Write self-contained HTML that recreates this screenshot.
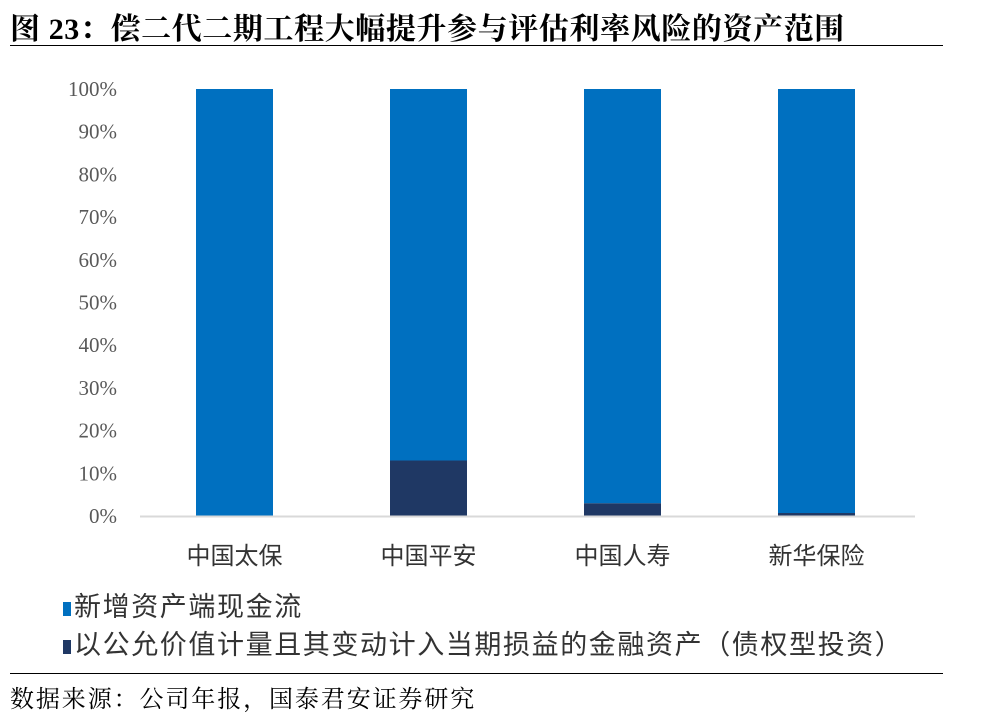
<!DOCTYPE html>
<html><head><meta charset="utf-8"><style>
body{margin:0;background:#fff;width:1000px;height:714px;overflow:hidden;position:relative;font-family:"Liberation Sans","Noto Sans CJK SC",sans-serif}
.abs{position:absolute;white-space:nowrap}
</style></head><body>
<div class="abs" style="left:10px;top:4px;font-family:'Liberation Serif','Noto Serif CJK SC',serif;font-size:30px;letter-spacing:0.6px;font-weight:bold;color:#000">图 23：偿二代二期工程大幅提升参与评估利率风险的资产范围</div>
<div class="abs" style="left:10px;top:45px;width:933px;height:1px;background:#000"></div>
<svg id="chart" class="abs" style="left:0;top:0" width="1000" height="714"></svg>
<div class="abs" style="left:63px;top:585px;font-size:27px;letter-spacing:1.6px;color:#333"><span style="display:inline-block;width:8px;height:14px;background:#0070c0;margin-right:3px"></span>新增资产端现金流</div>
<div class="abs" style="left:63px;top:623px;font-size:27px;letter-spacing:1.6px;color:#333"><span style="display:inline-block;width:8px;height:14px;background:#1f3864;margin-right:3px"></span>以公允价值计量且其变动计入当期损益的金融资产（债权型投资）</div>
<div class="abs" style="left:10px;top:673px;width:933px;height:1px;background:#000"></div>
<div class="abs" style="left:10px;top:679px;font-family:'Liberation Serif','Noto Serif CJK SC',serif;font-size:24px;letter-spacing:1.9px;color:#000">数据来源：公司年报，国泰君安证券研究</div>
<script>
const categories=["中国太保","中国平安","中国人寿","新华保险"];
const fvtplValues=[0,13,3,0.7];
const cashflowValues=[100,87,97,99.3];
const yTicks=[0,10,20,30,40,50,60,70,80,90,100];
const svg=document.getElementById('chart');
const NS='http://www.w3.org/2000/svg';
const y=v=>516-v*4.27;
const x=i=>196+i*194;
const bw=77;
function mk(t,a){const e=document.createElementNS(NS,t);for(const k in a)e.setAttribute(k,a[k]);svg.appendChild(e);return e;}
yTicks.forEach(v=>{const t=mk('text',{x:117,y:y(v)+7,'text-anchor':'end','font-size':'21','font-family':'Liberation Serif, serif',fill:'#595959'});t.textContent=v+'%';

});
categories.forEach((c,i)=>{
const d=mk('rect',{x:x(i),y:y(fvtplValues[i]),width:bw,height:fvtplValues[i]*4.27,fill:'#1f3864'});


const b=mk('rect',{x:x(i),y:y(fvtplValues[i]+cashflowValues[i]),width:bw,height:cashflowValues[i]*4.27,fill:'#0070c0'});


const t=mk('text',{x:x(i)+bw/2,y:564,'text-anchor':'middle','font-size':'24',fill:'#333','font-family':'Liberation Sans, Noto Sans CJK SC, sans-serif'});t.textContent=c;


});
const ax=mk('line',{x1:140,x2:915,y1:516.5,y2:516.5,stroke:'#d9d9d9','stroke-width':2});


</script>
</body></html>
